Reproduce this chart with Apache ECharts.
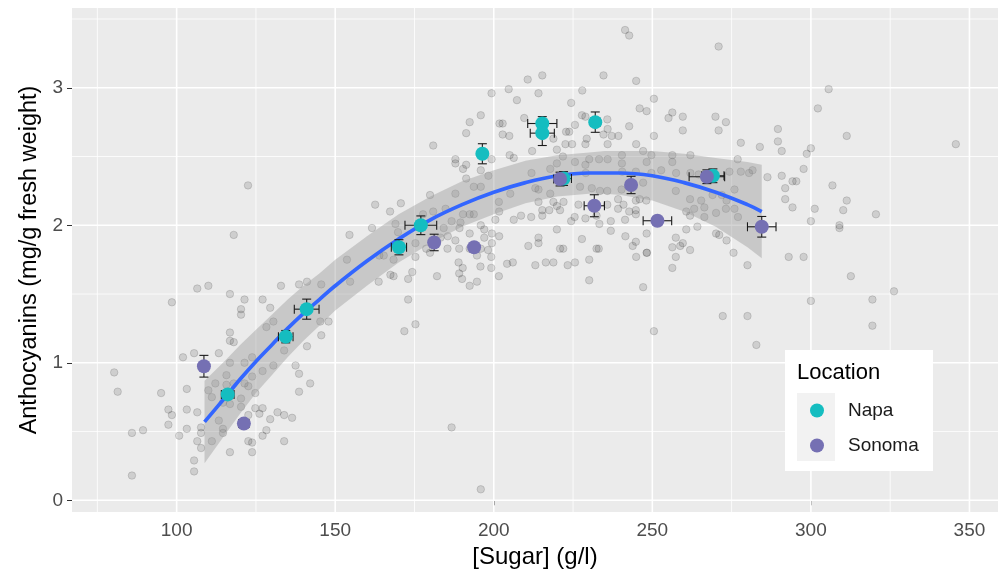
<!DOCTYPE html>
<html>
<head>
<meta charset="utf-8">
<script src="https://cdn.jsdelivr.net/npm/echarts@6/dist/echarts.min.js"></script>
<style>
html, body { margin: 0; padding: 0; background: #fff; }
#chart { width: 998px; height: 569px; }
</style>
</head>
<body>
<div id="chart"></div>
<script>
// axis ticks
const xTicks = [100, 150, 200, 250, 300, 350];
const xMinor = [75, 125, 175, 225, 275, 325];
const yTicks = [0, 1, 2, 3];
const yMinor = [0.5, 1.5, 2.5, 3.5];

// individual berry samples (grey)
const rawSugar = [
  122.5, 118.0,
  106.5, 110.0, 98.5, 116.8, 121.4, 127.1, 132.9, 120.3, 120.3, 129.5, 130.5, 128.3, 116.8, 116.8, 118.0,
  105.5, 102.0, 113.3, 116.8, 121.4, 123.8, 127.1, 130.5, 133.9, 80.3, 81.4, 95.1, 103.2, 110.0, 112.2,
  115.7, 115.7, 118.0, 111.1, 121.4, 122.6, 123.8, 124.8, 120.3, 114.6, 116.8, 120.3, 122.6, 124.8, 127.1,
  126.1, 129.5, 131.8, 133.9, 133.9, 97.4, 98.5, 103.2, 106.5, 97.4, 103.2, 107.7, 107.7, 100.8, 85.9,
  89.4, 113.3, 114.6, 114.6, 111.1, 106.5, 107.7, 122.6, 123.8, 128.3, 127.1, 116.8, 123.8, 105.5, 105.5, 85.9,
  199.3, 204.7, 195.9, 192.4, 191.3, 201.8, 202.8, 202.8, 204.9, 180.9, 187.9, 187.9, 191.3, 190.3, 195.9,
  198.3, 199.3, 191.3, 193.7, 195.9, 187.9, 179.9, 184.8, 170.7, 167.3, 162.6, 201.6, 201.7, 200.5, 180.9,
  177.7, 190.3, 192.4, 193.7, 186.7, 189.5, 195.9, 161.6, 169.0, 169.8, 154.5, 184.2, 189.2, 183.2, 185.5,
  187.9, 192.4, 197.0, 197.0, 199.4, 201.7, 192.4, 195.9, 199.4, 198.2, 175.3, 178.7, 179.9, 185.4, 189.1, 194.7,
  241.4, 242.7, 270.9, 210.7, 215.3, 234.6, 244.9, 214.1, 227.9, 207.3, 224.4, 250.5, 246.0, 248.2, 256.3,
  255.1, 259.6, 209.6, 227.8, 228.9, 235.8, 242.7, 269.9, 273.2, 259.6, 270.9, 250.5, 277.9, 222.8, 223.8,
  225.6, 229.3, 234.6, 235.9, 237.2, 239.3, 218.8, 222.6, 224.7, 228.9, 212.1, 219.9, 221.8, 225.6, 230.1,
  235.9, 244.9, 247.1, 233.2, 235.9, 240.4, 240.4, 248.2, 249.7, 256.3, 256.3, 262.0, 276.9, 205.0, 206.3,
  219.9, 228.9, 240.5, 229.0, 211.9, 217.8, 244.8, 249.7, 252.8, 257.5, 262.0, 264.6, 274.3, 277.9, 280.5,
  213.1, 214.1, 217.8, 227.2, 230.9, 233.5, 235.8, 239.2, 240.3, 247.1, 246.0, 244.8, 248.1, 257.4, 261.9,
  265.4, 269.0, 271.9, 275.9, 273.4, 275.9, 205.2, 214.1, 218.8, 219.9, 220.9, 222.0, 215.3, 217.5, 226.7,
  235.8, 239.2, 240.9, 242.7, 244.8, 260.7, 263.2, 266.4, 261.9, 266.4, 270.1, 273.2, 277.0, 206.3, 208.6,
  211.8, 215.3, 224.4, 225.5, 228.9, 232.4, 233.3, 236.9, 241.4, 244.8, 214.1, 219.9, 227.8, 236.9, 241.5,
  248.2, 244.8, 257.4, 259.6, 260.7, 264.2, 270.1, 271.1, 273.4, 210.9, 214.1, 220.9, 221.9, 232.4, 233.1,
  243.8, 248.3, 256.3, 258.8, 261.9,
  153.7, 163.7, 154.7, 145.6, 141.1, 138.6, 145.3, 147.9, 145.6, 141.1, 137.5, 138.6, 142.1, 138.6, 136.4,
  163.9, 165.3, 168.4, 174.3, 167.4, 168.4, 173.0, 175.3, 173.0, 175.3, 171.8, 182.1, 186.7, 195.9, 188.9,
  190.2, 189.1, 190.0, 192.4, 194.7, 195.8, 199.2, 199.2, 201.6, 204.2,
  206.0, 213.1, 216.4, 218.8, 223.3, 225.6, 230.1, 230.1, 244.9, 248.2, 247.1, 257.4, 256.3, 275.6, 280.0,
  272.2, 280.0, 250.5,
  305.6, 302.2, 289.6, 289.6, 290.8, 283.9, 311.3, 345.7, 300.0, 298.7, 297.7, 281.6, 286.3, 290.8, 294.2,
  295.4, 291.9, 306.8, 291.9, 311.3, 294.2, 301.2, 310.2, 320.5, 300.0, 309.0, 309.0, 293.0, 297.7,
  312.6, 326.2, 300.0, 319.4, 319.4, 282.8
];
const rawAntho = [
  2.29, 1.93,
  1.54, 1.56, 1.44, 1.50, 1.46, 1.46, 1.56, 1.39, 1.35, 1.40, 1.30, 1.26, 1.22, 1.16, 1.15,
  1.07, 1.04, 1.07, 1.00, 1.00, 1.04, 0.94, 0.98, 1.09, 0.93, 0.79, 0.78, 0.81, 0.80, 0.85,
  0.91, 0.84, 0.85, 0.75, 0.85, 0.83, 0.90, 0.78, 0.74, 0.71, 0.70, 0.68, 0.62, 0.67, 0.67,
  0.63, 0.59, 0.64, 0.62, 0.43, 0.66, 0.62, 0.66, 0.64, 0.55, 0.52, 0.53, 0.49, 0.47, 0.49,
  0.51, 0.58, 0.52, 0.49, 0.43, 0.43, 0.38, 0.43, 0.42, 0.51, 0.47, 0.35, 0.35, 0.29, 0.21, 0.18,
  2.96, 2.99, 2.80, 2.75, 2.67, 2.74, 2.74, 2.66, 2.65, 2.58, 2.48, 2.45, 2.44, 2.41, 2.40,
  2.36, 2.48, 2.34, 2.28, 2.28, 2.23, 2.22, 2.12, 2.16, 2.10, 2.15, 2.17, 2.10, 2.04, 2.10,
  2.08, 2.08, 2.08, 2.08, 2.03, 2.02, 2.00, 1.98, 2.01, 1.95, 1.93, 1.98, 1.98, 1.91, 1.92,
  1.89, 1.94, 1.97, 1.91, 1.94, 1.92, 1.83, 1.83, 1.87, 1.82, 1.87, 1.83, 1.80, 1.83, 1.83, 1.78,
  3.42, 3.38, 3.30, 3.06, 3.09, 3.09, 3.05, 2.96, 2.98, 2.91, 2.89, 2.92, 2.85, 2.83, 2.82,
  2.78, 2.79, 2.78, 2.80, 2.79, 2.77, 2.72, 2.79, 2.75, 2.69, 2.69, 2.65, 2.60, 2.68, 2.68,
  2.73, 2.63, 2.66, 2.70, 2.65, 2.65, 2.63, 2.59, 2.59, 2.59, 2.54, 2.55, 2.50, 2.46, 2.48,
  2.59, 2.59, 2.54, 2.48, 2.48, 2.51, 2.45, 2.46, 2.51, 2.51, 2.46, 2.51, 2.48, 2.51, 2.49,
  2.45, 2.44, 2.39, 2.38, 2.38, 2.41, 2.39, 2.38, 2.40, 2.38, 2.38, 2.37, 2.39, 2.39, 2.38,
  2.27, 2.26, 2.23, 2.28, 2.27, 2.25, 2.25, 2.19, 2.26, 2.31, 2.19, 2.18, 2.18, 2.25, 2.19,
  2.18, 2.22, 2.22, 2.26, 2.18, 2.12, 2.23, 2.17, 2.17, 2.14, 2.11, 2.17, 2.11, 2.11, 2.15,
  2.15, 2.12, 2.15, 2.10, 2.11, 2.10, 2.12, 2.13, 2.07, 2.06, 2.09, 2.12, 2.06, 2.04, 2.07,
  2.06, 2.07, 2.03, 2.06, 2.05, 2.07, 2.01, 2.03, 2.04, 2.08, 1.91, 1.97, 1.90, 1.96, 1.92,
  1.94, 1.88, 1.91, 1.87, 1.97, 1.99, 1.94, 1.93, 1.89, 1.85, 1.87, 1.83, 1.83, 1.83, 1.83,
  1.85, 1.80, 1.84, 1.85, 1.82,
  1.75, 1.59, 1.59, 1.57, 1.59, 1.57, 1.30, 1.30, 1.20, 1.12, 0.98, 0.92, 0.85, 0.79, 0.60,
  1.78, 1.78, 1.75, 1.66, 1.64, 1.63, 1.61, 1.77, 1.46, 1.28, 1.23, 1.63, 0.53, 0.08, 1.73,
  1.69, 1.65, 1.61, 1.56, 1.59, 1.70, 1.69, 1.77, 1.63, 1.72,
  1.73, 1.71, 1.73, 1.73, 1.71, 1.73, 1.75, 1.60, 1.77, 1.80, 1.55, 1.77, 1.69, 1.80, 1.71,
  1.34, 1.34, 1.23,
  2.99, 2.85, 2.70, 2.61, 2.54, 2.57, 2.65, 2.59, 2.56, 2.52, 2.41, 2.40, 2.35, 2.36, 2.32,
  2.32, 2.27, 2.29, 2.19, 2.18, 2.13, 2.12, 2.11, 2.08, 2.03, 2.00, 1.98, 1.77, 1.77,
  1.63, 1.52, 1.45, 1.46, 1.27, 1.13
];

// vineyard means with standard errors
const napaSugar = [116.1, 134.4, 141.0, 170.1, 177.0, 196.4, 215.3, 215.3, 232.0, 222.0, 269.1];
const napaAntho = [0.77, 1.19, 1.39, 1.84, 2.00, 2.52, 2.74, 2.67, 2.75, 2.34, 2.36];
const napaSugarSE = [2.0, 2.3, 3.9, 2.4, 5.0, 1.0, 4.6, 3.8, 1.5, 2.5, 3.5];
const napaAnthoSE = [0.03, 0.045, 0.073, 0.055, 0.068, 0.073, 0.05, 0.09, 0.074, 0.05, 0.05];

const sonomaSugar = [108.6, 121.2, 181.2, 193.8, 220.9, 231.7, 243.3, 251.6, 267.2, 284.5];
const sonomaAntho = [0.975, 0.558, 1.875, 1.84, 2.336, 2.142, 2.293, 2.033, 2.353, 1.989];
const sonomaSugarSE = [1.0, 1.6, 1.0, 0.5, 2.0, 3.2, 1.0, 4.5, 5.6, 4.5];
const sonomaAnthoSE = [0.079, 0.03, 0.06, 0.01, 0.05, 0.08, 0.063, 0.025, 0.05, 0.075];

// quadratic smooth and its confidence band
const curveSugar = [108.8, 115, 120, 125, 130, 135, 140, 145, 150, 160, 170, 180, 190, 200, 210, 220, 230, 235, 240, 250, 260, 270, 280, 284.5];
const curveAntho = [0.57, 0.74, 0.88, 1.01, 1.13, 1.25, 1.36, 1.46, 1.56, 1.74, 1.90, 2.04, 2.15, 2.24, 2.31, 2.36, 2.38, 2.38, 2.38, 2.36, 2.31, 2.24, 2.15, 2.10];
const bandHigh = [0.87, 1.01, 1.13, 1.24, 1.35, 1.46, 1.56, 1.65, 1.75, 1.92, 2.08, 2.21, 2.32, 2.40, 2.47, 2.51, 2.53, 2.54, 2.54, 2.54, 2.52, 2.49, 2.46, 2.44];
const bandLow = [0.27, 0.47, 0.63, 0.78, 0.91, 1.04, 1.16, 1.27, 1.38, 1.56, 1.73, 1.87, 1.99, 2.08, 2.16, 2.21, 2.23, 2.23, 2.22, 2.18, 2.10, 1.99, 1.84, 1.76];

const NAPA = '#15BDC0';
const SONOMA = '#7570B3';
const FONT = '"Liberation Sans", Arial, sans-serif';

const zip = (a, b) => a.map((v, i) => [v, b[i]]);

function gridLines(name, items, vertical) {
  return {
    type: 'custom', name: name, z: 1, silent: true,
    data: items,
    encode: { x: 0, y: 1 },
    renderItem(params, api) {
      const cs = params.coordSys;
      const p = api.coord([api.value(0), api.value(1)]);
      const shape = vertical
        ? { x1: p[0], y1: cs.y, x2: p[0], y2: cs.y + cs.height }
        : { x1: cs.x, y1: p[1], x2: cs.x + cs.width, y2: p[1] };
      return { type: 'line', shape: shape, style: { stroke: '#fff', lineWidth: api.value(2) } };
    }
  };
}

function errorBars(name, xs, ys, xe, ye) {
  return {
    type: 'custom', name: name, z: 5, silent: true,
    data: xs.map((x, i) => [x, ys[i], xe[i], ye[i]]),
    encode: { x: 0, y: 1 },
    renderItem(params, api) {
      const x = api.value(0), y = api.value(1), dx = api.value(2), dy = api.value(3);
      const l = api.coord([x - dx, y]), r = api.coord([x + dx, y]);
      const t = api.coord([x, y + dy]), b = api.coord([x, y - dy]);
      const cap = 4.5;
      const style = { stroke: '#1a1a1a', lineWidth: 1.1 };
      const seg = (x1, y1, x2, y2) => ({ type: 'line', shape: { x1, y1, x2, y2 }, style: style });
      return {
        type: 'group',
        children: [
          seg(l[0], l[1], r[0], r[1]),
          seg(l[0], l[1] - cap, l[0], l[1] + cap),
          seg(r[0], r[1] - cap, r[0], r[1] + cap),
          seg(t[0], t[1], b[0], b[1]),
          seg(t[0] - cap, t[1], t[0] + cap, t[1]),
          seg(b[0] - cap, b[1], b[0] + cap, b[1])
        ]
      };
    }
  };
}

const chart = echarts.init(document.getElementById('chart'), null, { renderer: 'canvas' });

chart.setOption({
  animation: false,
  backgroundColor: '#fff',
  textStyle: { fontFamily: FONT },
  grid: {
    left: 72, right: 0, top: 8, bottom: 57, show: true, backgroundColor: '#EBEBEB', borderWidth: 0,
    containLabel: false, outerBoundsMode: 'none'
  },
  xAxis: {
    type: 'value', min: 67, max: 359,
    name: '[Sugar] (g/l)', nameLocation: 'middle', nameGap: 31,
    nameTextStyle: { fontSize: 24, color: '#000', fontFamily: FONT },
    axisLine: { show: false },
    splitLine: { show: false },
    axisTick: { show: true, customValues: xTicks, length: 5, lineStyle: { color: '#333', width: 1 } },
    axisLabel: { customValues: xTicks, color: '#4D4D4D', fontSize: 19, margin: 9, fontFamily: FONT }
  },
  yAxis: {
    type: 'value', min: -0.085, max: 3.58,
    name: 'Anthocyanins (mg/g fresh weight)', nameLocation: 'middle', nameGap: 30,
    nameTextStyle: { fontSize: 23.5, color: '#000', fontFamily: FONT },
    axisLine: { show: false },
    splitLine: { show: false },
    axisTick: { show: true, customValues: yTicks, length: 5, lineStyle: { color: '#333', width: 1 } },
    axisLabel: { customValues: yTicks, color: '#4D4D4D', fontSize: 19, margin: 9, fontFamily: FONT }
  },
  legend: {
    data: [{ name: 'Napa', icon: 'circle' }, { name: 'Sonoma', icon: 'circle' }],
    orient: 'vertical', left: 810, top: 401, padding: 0,
    itemWidth: 14, itemHeight: 14, itemGap: 16,
    selectedMode: false, z: 60,
    textStyle: { fontSize: 19, lineHeight: 18, color: '#1a1a1a', fontFamily: FONT, padding: [0, 0, 0, 19] }
  },
  graphic: [
    { type: 'rect', left: 785, top: 350, z: 50, shape: { width: 148, height: 121 }, style: { fill: '#fff' } },
    { type: 'rect', left: 797, top: 393, z: 51, shape: { width: 38, height: 68 }, style: { fill: '#F2F2F2' } },
    { type: 'text', left: 797, top: 362, z: 52, style: { text: 'Location', font: '22px ' + FONT, fill: '#000' } }
  ],
  series: [
    gridLines('xMinorGrid', xMinor.map(v => [v, 0, 0.8]), true),
    gridLines('xMajorGrid', xTicks.map(v => [v, 0, 1.6]), true),
    gridLines('yMinorGrid', yMinor.map(v => [100, v, 0.8]), false),
    gridLines('yMajorGrid', yTicks.map(v => [100, v, 1.6]), false),
    {
      type: 'scatter', name: 'samples', z: 2, silent: true,
      data: zip(rawSugar, rawAntho),
      symbol: 'circle', symbolSize: 7.5,
      itemStyle: { color: 'rgba(0,0,0,0.12)', borderColor: 'rgba(0,0,0,0.17)', borderWidth: 0.8, opacity: 1 }
    },
    {
      type: 'custom', name: 'band', z: 3, silent: true,
      data: [[curveSugar[0], curveAntho[0]]],
      encode: { x: 0, y: 1 },
      renderItem(params, api) {
        const pts = curveSugar.map((x, i) => api.coord([x, bandHigh[i]]));
        for (let i = curveSugar.length - 1; i >= 0; i--) pts.push(api.coord([curveSugar[i], bandLow[i]]));
        return { type: 'polygon', shape: { points: pts }, style: { fill: 'rgba(153,153,153,0.42)' } };
      }
    },
    {
      type: 'line', name: 'fit', z: 4, silent: true,
      data: zip(curveSugar, curveAntho),
      smooth: 0.4, showSymbol: false, symbol: 'none',
      lineStyle: { color: '#3366FF', width: 3.7 }
    },
    errorBars('Napa SE', napaSugar, napaAntho, napaSugarSE, napaAnthoSE),
    errorBars('Sonoma SE', sonomaSugar, sonomaAntho, sonomaSugarSE, sonomaAnthoSE),
    {
      type: 'scatter', name: 'Napa', z: 6,
      data: zip(napaSugar, napaAntho),
      symbol: 'circle', symbolSize: 14,
      itemStyle: { color: NAPA, opacity: 1 }
    },
    {
      type: 'scatter', name: 'Sonoma', z: 7,
      data: zip(sonomaSugar, sonomaAntho),
      symbol: 'circle', symbolSize: 14,
      itemStyle: { color: SONOMA, opacity: 1 }
    }
  ]
});
</script>
</body>
</html>
